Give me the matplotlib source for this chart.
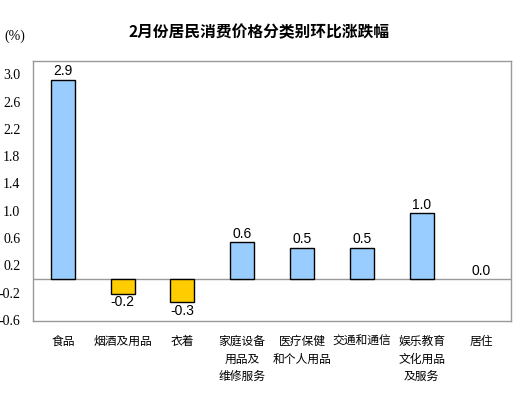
import matplotlib
matplotlib.use("Agg")
import matplotlib.pyplot as plt

plt.rcParams['font.family'] = ['Noto Sans CJK SC', 'DejaVu Sans']

title = "2月份居民消费价格分类别环比涨跌幅"
categories = ["食品", "烟酒及用品", "衣着", "家庭设备\n用品及\n维修服务", "医疗保健\n和个人用品",
              "交通和通信", "娱乐教育\n文化用品\n及服务", "居住"]
values = [2.92, -0.22, -0.34, 0.54, 0.46, 0.46, 0.96, 0.0]
value_labels = ["2.9", "-0.2", "-0.3", "0.6", "0.5", "0.5", "1.0", "0.0"]
yticks = [-0.6, -0.2, 0.2, 0.6, 1.0, 1.4, 1.8, 2.2, 2.6, 3.0]
ytick_labels = ["-0.6", "-0.2", "0.2", "0.6", "1.0", "1.4", "1.8", "2.2", "2.6", "3.0"]

fig = plt.figure(figsize=(5.26, 3.99), dpi=100)
ax = fig.add_axes([0.0627, 0.1947, 0.9093, 0.6533])

colors = ["#99CCFF" if v >= 0 else "#FFCC00" for v in values]
edges = ["black" if v != 0 else "none" for v in values]
x = list(range(len(categories)))
ax.bar(x, values, width=0.4, color=colors, edgecolor=edges, linewidth=1.0, zorder=3)
ax.axhline(0, color="#999999", linewidth=1.0, zorder=2)

for xi, v, lab in zip(x, values, value_labels):
    if v >= 0:
        ax.annotate(lab, (xi, v), xytext=(0, 1), textcoords="offset points",
                    ha="center", va="bottom", fontsize=10, family="Liberation Sans")
    else:
        ax.annotate(lab, (xi, v), xytext=(0, -1), textcoords="offset points",
                    ha="center", va="top", fontsize=10, family="Liberation Sans")

ax.set_xlim(-0.5, 7.5)
ax.set_ylim(-0.62, 3.2)
ax.set_yticks(yticks)
ax.set_yticklabels(ytick_labels, family="Liberation Serif", fontsize=10)
ax.tick_params(axis="y", length=0, pad=9)
ax.set_xticks([])

for xi, c in zip(x, categories):
    ax.text(xi, -0.62 - 0.2, c, ha="center", va="top", fontsize=8.5,
            linespacing=1.45)

for s in ax.spines.values():
    s.set_color("#999999")
    s.set_linewidth(1.0)

fig.text(0.492, 0.92, title, ha="center", va="center", fontsize=11.3, fontweight="bold")
fig.text(0.028, 0.908, "(%)", ha="center", va="center", fontsize=10, family="Liberation Serif")

fig.savefig("out.png", dpi=100)
